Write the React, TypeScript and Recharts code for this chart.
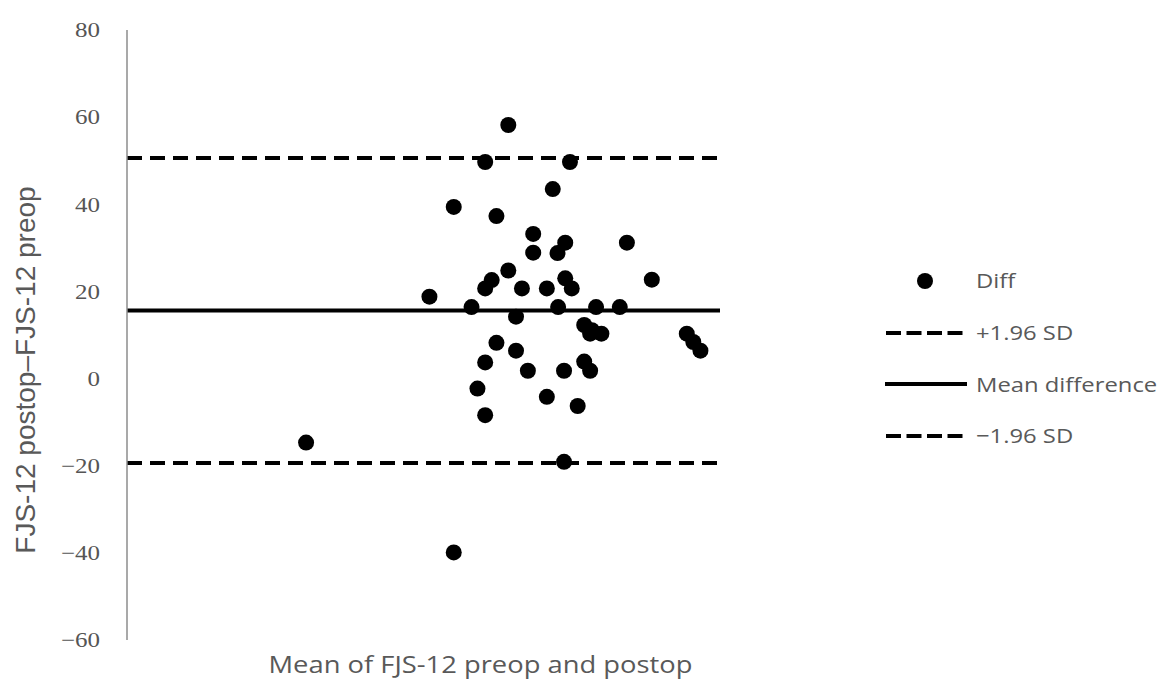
import {
  ScatterChart,
  Scatter,
  XAxis,
  YAxis,
  ReferenceLine,
  Legend,
} from 'recharts';

// 平均値（x）と差（y）
const meanScores = [
  64.3, 60.4, 74.7, 71.8, 55.1, 62.3, 68.5, 73.9, 84.3, 68.5,
  72.6, 64.3, 61.5, 88.5, 73.9, 60.4, 66.6, 70.8, 75.0, 51.0,
  58.1, 72.7, 79.1, 83.1, 65.6, 77.1, 78.4, 78.1, 80.0, 94.4,
  95.5, 96.7, 62.3, 65.6, 60.4, 77.1, 67.6, 73.7, 78.1, 59.1,
  70.8, 76.0, 60.4, 30.2, 73.7, 55.1,
];
const diffs = [
  58.2, 49.7, 49.7, 43.5, 39.4, 37.3, 33.2, 31.2, 31.2, 28.9,
  28.8, 24.8, 22.6, 22.7, 23.0, 20.7, 20.7, 20.7, 20.7, 18.8,
  16.4, 16.4, 16.4, 16.4, 14.2, 12.3, 11.1, 10.3, 10.3, 10.3,
  8.4, 6.4, 8.2, 6.4, 3.7, 3.9, 1.8, 1.8, 1.8, -2.3,
  -4.2, -6.3, -8.4, -14.7, -19.1, -39.9,
];

const meanDiff = 15.6;
const upperLimit = 50.6;
const lowerLimit = -19.4;

const yTicks = [-60, -40, -20, 0, 20, 40, 60, 80];

const legendItems = [
  { label: 'Diff', kind: 'dot' },
  { label: '+1.96 SD', kind: 'dash' },
  { label: 'Mean difference', kind: 'solid' },
  { label: '\u22121.96 SD', kind: 'dash' },
];

const points = meanScores.map((x, i) => ({ x, y: diffs[i] }));

const LABEL_FONT = '"Open Sans", sans-serif';
const GREY = '#595959';
// 元画像は横方向に少し引き伸ばされている
const STRETCH = 1.19;

function LegendBox() {
  return (
    <div style={{ fontFamily: LABEL_FONT, fontSize: 20, color: GREY }}>
      {legendItems.map((item) => (
        <div key={item.label} style={{ display: 'flex', alignItems: 'center', height: 51.7 }}>
          <svg width={82} height={20} style={{ marginRight: 9 }}>
            {item.kind === 'dot' && <circle cx={40} cy={10} r={8} fill="#000" />}
            {item.kind === 'dash' && (
              <line x1={1} y1={10} x2={82} y2={10} stroke="#000" strokeWidth={4} strokeDasharray="15 5.5" />
            )}
            {item.kind === 'solid' && (
              <line x1={0} y1={10} x2={82} y2={10} stroke="#000" strokeWidth={4} />
            )}
          </svg>
          <span style={{ display: 'inline-block', transform: `scaleX(${STRETCH})`, transformOrigin: 'left center', whiteSpace: 'nowrap' }}>
            {item.label}
          </span>
        </div>
      ))}
    </div>
  );
}

function YTick({ x, y, payload }: any) {
  const label = String(payload.value).replace('-', '\u2212');
  return (
    <text
      x={0}
      y={0}
      transform={`translate(${x}, ${y}) scale(${STRETCH}, 1)`}
      textAnchor="end"
      dominantBaseline="central"
      style={{ fontFamily: '"Liberation Serif", serif', fontSize: 21, fill: '#555' }}
    >
      {label}
    </text>
  );
}

export default function App() {
  return (
    <div style={{ width: 1150, height: 672, background: '#fff' }}>
      <ScatterChart width={1150} height={672} margin={{ top: 22, right: 438, bottom: 0, left: 0 }}>
        <XAxis
          type="number"
          dataKey="x"
          domain={[0, 100]}
          axisLine={false}
          tickLine={false}
          tick={false}
          height={40}
          label={{
            content: ({ viewBox }: any) => {
              const cx = viewBox.x + viewBox.width / 2 + 57;
              const cy = viewBox.y + 33;
              return (
                <text
                  x={0}
                  y={0}
                  transform={`translate(${cx}, ${cy}) scale(${STRETCH}, 1)`}
                  textAnchor="middle"
                  style={{ fontFamily: LABEL_FONT, fontSize: 23, fill: GREY }}
                >
                  Mean of FJS-12 preop and postop
                </text>
              );
            },
          }}
        />
        <YAxis
          type="number"
          dataKey="y"
          domain={[-60, 80]}
          ticks={yTicks}
          width={119}
          interval={0}
          axisLine={{ stroke: '#8c8c8c', strokeWidth: 1.5 }}
          tickLine={false}
          tickSize={6}
          tickMargin={21}
          tick={<YTick />}
          label={{
            content: ({ viewBox }: any) => {
              const cx = viewBox.x + 17;
              const cy = viewBox.y + viewBox.height / 2 + 35;
              return (
                <text
                  x={0}
                  y={0}
                  transform={`translate(${cx}, ${cy}) rotate(-90)`}
                  textAnchor="middle"
                  dominantBaseline="central"
                  style={{ fontFamily: '"Liberation Sans", Arial, sans-serif', fontSize: 28, fill: GREY }}
                >
                  FJS-12 postop–FJS-12 preop
                </text>
              );
            },
          }}
        />
        <ReferenceLine y={upperLimit} stroke="#000" strokeWidth={4} strokeDasharray="15 8" />
        <ReferenceLine y={meanDiff} stroke="#000" strokeWidth={4} />
        <ReferenceLine y={lowerLimit} stroke="#000" strokeWidth={4} strokeDasharray="15 8" />
        <Scatter
          name="Diff"
          data={points}
          isAnimationActive={false}
          shape={(props: any) => <circle cx={props.cx} cy={props.cy} r={8} fill="#000" />}
        />
        <Legend
          layout="vertical"
          align="center"
          verticalAlign="middle"
          content={() => <LegendBox />}
          wrapperStyle={{ position: 'absolute', left: 877, top: 247, width: 300, height: 'auto' }}
        />
      </ScatterChart>
    </div>
  );
}
